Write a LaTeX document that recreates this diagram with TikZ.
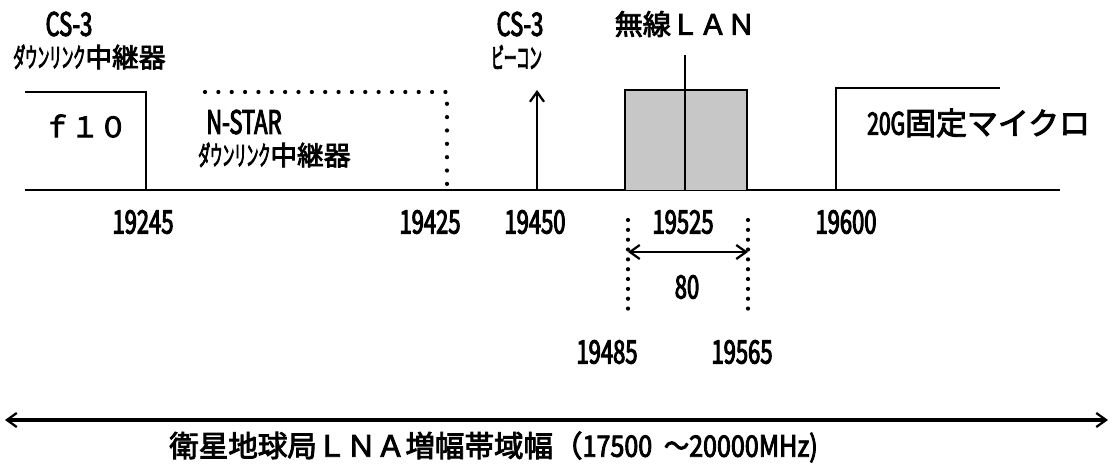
\documentclass[tikz,border=0pt]{standalone}
\usepackage{fontspec}
\setmainfont{Noto Sans CJK JP}[FakeBold=3]
\newfontfamily\condf{Noto Sans CJK JP}[FakeStretch=0.68, FakeBold=3]
\newfontfamily\widef{Noto Sans CJK JP}[FakeStretch=0.85, FakeBold=3]
\newfontfamily\kanaf{Noto Sans CJK JP}[FakeStretch=0.45, FakeBold=3]
\usetikzlibrary{arrows.meta, positioning}

\begin{document}
\begin{tikzpicture}[x=0.25mm, y=-0.25mm,
  every node/.style={inner sep=0pt, font=\fontsize{20pt}{22pt}\selectfont},
  num/.style={font=\condf\fontsize{23pt}{26pt}\selectfont},
  rep/.style={font=\fontsize{19pt}{22pt}\selectfont},
  band/.style={line width=2pt},
  dotline/.style={line width=3pt, line cap=round, dash pattern=on 0pt off 9.5pt},
  fine dotline/.style={line width=3pt, line cap=round, dash pattern=on 0pt off 7pt},
  >={Straight Barb[length=7pt, width=10pt, line width=1.6pt]}, line width=1.8pt
]
\useasboundingbox (0,0) rectangle (1112,465);
\def\yb{190}
% frequency axis
\coordinate (ax0) at (25,\yb);
\coordinate (ax1) at (1060,\yb);
\coordinate (f19245) at (146,\yb);
\coordinate (f19425) at (447,\yb);
\coordinate (f19450) at (537,\yb);
\coordinate (f19485) at (625,\yb);
\coordinate (f19525) at (685,\yb);
\coordinate (f19565) at (747,\yb);
\coordinate (f19600) at (836,\yb);
\draw (ax0) -- (ax1);
% CS-3 downlink repeater
\node[num] (cs3) at (69,24) {CS-3};
\node[rep, anchor=west] (cs3rep) at (12,57) {{\kanaf ダウンリンク}中継器};
\draw[band] (ax0 |- 0,92) -| (f19245);
\node (f10) at (85,126) {ｆ１０};
% N-STAR downlink repeater
\node[num, anchor=west] (nstar) at (205,122) {N-STAR};
\node[rep, anchor=west] (nstarrep) at (197,155) {{\kanaf ダウンリンク}中継器};
\draw[dotline] (205,92) -| (f19425);
% CS-3 beacon
\node[num] (bcn) at (520,24) {CS-3};
\node[anchor=west, font=\kanaf\fontsize{20pt}{22pt}\selectfont] (bcnlbl) at (490,57) {ビーコン};
\draw[->] (f19450) -- ++(0,-100);
% wireless LAN
\node (wlan) at (685,24) {無線ＬＡＮ};
\fill[black!22] (f19485) rectangle (747,90);
\draw[band] (f19485) |- (747,90) -- (f19565);
\draw (f19525) -- (685,55);
% 20G fixed micro
\draw[band] (f19600) |- (1000,88);
\node[anchor=west, font=\fontsize{22pt}{24pt}\selectfont] (micro) at (866,123) {{\condf 20G}固定マイクロ};
% frequencies
\node[num] (n19245) at (143,222) {19245};
\node[num] (n19425) at (430,222) {19425};
\node[num] (n19450) at (535,222) {19450};
\node[num] (n19525) at (683,222) {19525};
\node[num] (n19600) at (846,222) {19600};
% LAN bandwidth
\draw[fine dotline] (628,220) -- (628,318);
\draw[fine dotline] (748,220) -- (748,318);
\coordinate (bwl) at (628,252);
\coordinate (bwr) at (748,252);
\draw[<->] (bwl) -- (bwr);
\node[num] (bw) at (687,287) {80};
\node[num] (n19485) at (607,352) {19485};
\node[num] (n19565) at (742,352) {19565};
% LNA band
\coordinate (lna0) at (5,420);
\coordinate (lna1) at (1108,420);
\draw[<->, line width=2.4pt] (lna0) -- (lna1);
\node[anchor=west, font=\fontsize{21pt}{24pt}\selectfont] (lna) at (168,447) {衛星地球局ＬＮＡ増幅帯域幅（{\widef 17500\hspace{0.4em}～20000MHz)}};
\end{tikzpicture}
\end{document}
